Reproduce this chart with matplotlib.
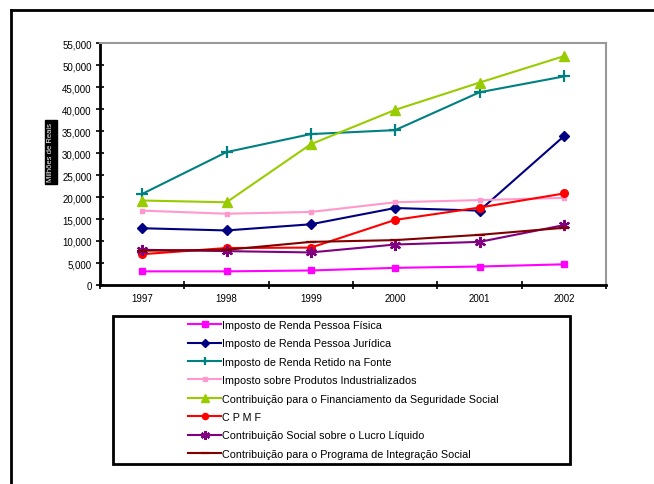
import matplotlib.pyplot as plt
from matplotlib.lines import Line2D

plt.rcParams['font.family'] = ['Liberation Sans', 'DejaVu Sans']

# Arrecadação por tributo, em milhões de reais
anos = ['1997', '1998', '1999', '2000', '2001', '2002']
irpf = [3100, 3100, 3300, 3900, 4200, 4700]
irpj = [12900, 12400, 13800, 17500, 16900, 33800]
irrf = [20700, 30200, 34300, 35200, 43800, 47400]
ipi = [16900, 16200, 16600, 18800, 19300, 19800]
cofins = [19200, 18800, 32000, 39800, 46000, 52000]
cpmf = [7000, 8400, 8500, 14800, 17600, 20800]
csll = [8000, 7700, 7400, 9200, 9800, 13600]
pis = [7800, 8000, 9800, 10200, 11400, 13000]

nomes = ['Imposto de Renda Pessoa Física',
         'Imposto de Renda Pessoa Jurídica',
         'Imposto de Renda Retido na Fonte',
         'Imposto sobre Produtos Industrializados',
         'Contribuição para o Financiamento da Seguridade Social',
         'C P M F',
         'Contribuição Social sobre o Lucro Líquido',
         'Contribuição para o Programa de Integração Social']
series = [irpf, irpj, irrf, ipi, cofins, cpmf, csll, pis]

# estilo de cada linha: cor, marcador, tamanho
estilos = [('#FF00FF', 's', 5),
           ('#000080', 'D', 5.5),
           ('#008080', '+', 8),
           ('#FF99CC', 's', 3),
           ('#99CC00', '^', 7),
           ('#FF0000', 'o', 5.5),
           ('#800080', (6, 2, 0), 8),
           ('#800000', '_', 7)]

fig = plt.figure(figsize=(6.54, 4.85), dpi=100)
ax = fig.add_axes([100 / 654, 1 - 286 / 485, 506 / 654, 242 / 485])

x = list(range(len(anos)))
handles = []
for vals, (cor, mk, ms), nome in zip(series, estilos, nomes):
    h, = ax.plot(x, vals, color=cor, marker=mk, markersize=ms, lw=1.5,
                 markeredgewidth=1.6 if mk in ('+', '_') or isinstance(mk, tuple) else 1,
                 label=nome)
    handles.append(h)

ax.set_xlim(-0.5, 5.5)
ax.set_ylim(0, 55000)
ax.set_yticks(range(0, 55001, 5000))
ax.set_yticklabels([f'{v:,}' for v in range(0, 55001, 5000)])
ax.set_xticks(x)
ax.set_xticklabels(anos)
ax.set_xticks([i - 0.5 for i in range(7)], minor=True)

ax.tick_params(axis='y', direction='inout', length=6, width=1.2, labelsize=7, pad=3)
ax.tick_params(axis='x', which='major', length=0, labelsize=7, pad=6)
ax.tick_params(axis='x', which='minor', direction='inout', length=6, width=1.2)

for s in ('left', 'bottom'):
    ax.spines[s].set_linewidth(2)
    ax.spines[s].set_color('black')
for s in ('top', 'right'):
    ax.spines[s].set_linewidth(1.5)
    ax.spines[s].set_color('#999999')

# rótulo do eixo y em caixa preta
fig.text(51 / 654, 1 - 153 / 485, 'Milhões de Reais', rotation=90, color='white',
         fontsize=5.5, ha='center', va='center',
         bbox=dict(facecolor='black', edgecolor='black', pad=2))

# moldura externa
fig.add_artist(Line2D([11 / 654, 11 / 654], [0, 1 - 11 / 485], color='black', lw=2))
fig.add_artist(Line2D([11 / 654, 1], [1 - 11 / 485, 1 - 11 / 485], color='black', lw=2))

# caixa da legenda
bx0, bx1, by0, by1 = 113 / 654, 570 / 654, 1 - 465 / 485, 1 - 317 / 485
fig.add_artist(plt.Rectangle((bx0, by0), bx1 - bx0, by1 - by0, fill=False,
                             edgecolor='black', lw=2, transform=fig.transFigure))
fig.legend(handles=handles, loc='upper left',
           bbox_to_anchor=(188 / 654, 1 - 321 / 485), frameon=False,
           fontsize=7.75, handlelength=3.1, handletextpad=0.1, labelspacing=0.78,
           borderpad=0, borderaxespad=0, markerscale=0.8)

fig.savefig('out.png', dpi=100)
